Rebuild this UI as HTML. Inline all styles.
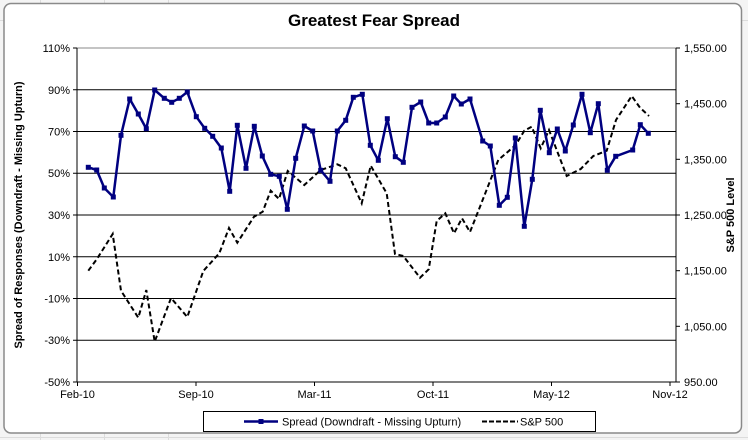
<!DOCTYPE html>
<html><head><style>
body{margin:0;background:#fff;}
svg{display:block;font-family:"Liberation Sans",sans-serif;}
</style></head><body>
<svg width="748" height="440" viewBox="0 0 748 440">
<rect x="0" y="0" width="748" height="440" fill="#f4f4f4"/>
<g stroke="#dcdcdc" stroke-width="1">
<line x1="0" y1="20.5" x2="748" y2="20.5"/><line x1="0" y1="437.5" x2="748" y2="437.5"/>
<line x1="40.5" y1="0" x2="40.5" y2="440"/><line x1="104.5" y1="0" x2="104.5" y2="440"/><line x1="168.5" y1="0" x2="168.5" y2="440"/>
</g>
<rect x="4" y="3.5" width="737.5" height="429.5" rx="7" fill="#fff" stroke="#8a8a8a" stroke-width="1.5"/>
<text x="374" y="26" text-anchor="middle" font-size="17" font-weight="bold">Greatest Fear Spread</text>
<g stroke="#000" stroke-width="1">
<line x1="77" y1="48" x2="676" y2="48" stroke="#888"/>
<line x1="77" y1="89.75" x2="676" y2="89.75"/>
<line x1="77" y1="131.5" x2="676" y2="131.5"/>
<line x1="77" y1="173.25" x2="676" y2="173.25"/>
<line x1="77" y1="215" x2="676" y2="215"/>
<line x1="77" y1="256.75" x2="676" y2="256.75"/>
<line x1="77" y1="298.5" x2="676" y2="298.5"/>
<line x1="77" y1="340.25" x2="676" y2="340.25"/>
<line x1="77" y1="382" x2="676" y2="382"/>
<line x1="77" y1="48" x2="77" y2="382"/>
<line x1="676" y1="48" x2="676" y2="382"/>
<line x1="73" y1="48" x2="77" y2="48"/><line x1="73" y1="89.75" x2="77" y2="89.75"/><line x1="73" y1="131.5" x2="77" y2="131.5"/><line x1="73" y1="173.25" x2="77" y2="173.25"/><line x1="73" y1="215" x2="77" y2="215"/><line x1="73" y1="256.75" x2="77" y2="256.75"/><line x1="73" y1="298.5" x2="77" y2="298.5"/><line x1="73" y1="340.25" x2="77" y2="340.25"/><line x1="73" y1="382" x2="77" y2="382"/>
<line x1="676" y1="48" x2="680" y2="48"/><line x1="676" y1="103.7" x2="680" y2="103.7"/><line x1="676" y1="159.3" x2="680" y2="159.3"/><line x1="676" y1="215" x2="680" y2="215"/><line x1="676" y1="270.7" x2="680" y2="270.7"/><line x1="676" y1="326.3" x2="680" y2="326.3"/><line x1="676" y1="382" x2="680" y2="382"/>
<line x1="77.5" y1="382" x2="77.5" y2="386"/><line x1="196" y1="382" x2="196" y2="386"/><line x1="314.5" y1="382" x2="314.5" y2="386"/><line x1="433" y1="382" x2="433" y2="386"/><line x1="551.5" y1="382" x2="551.5" y2="386"/><line x1="670" y1="382" x2="670" y2="386"/>
</g>
<g font-size="11" text-anchor="end">
<text x="70" y="52">110%</text><text x="70" y="94">90%</text><text x="70" y="135.5">70%</text><text x="70" y="177">50%</text><text x="70" y="219">30%</text><text x="70" y="261">10%</text><text x="70" y="302.5">-10%</text><text x="70" y="344">-30%</text><text x="70" y="386">-50%</text>
</g>
<g font-size="11">
<text x="684" y="52">1,550.00</text><text x="684" y="107.7">1,450.00</text><text x="684" y="163.3">1,350.00</text><text x="684" y="219">1,250.00</text><text x="684" y="274.7">1,150.00</text><text x="684" y="330.3">1,050.00</text><text x="684" y="386">950.00</text>
</g>
<g font-size="11" text-anchor="middle">
<text x="77.5" y="398">Feb-10</text><text x="196" y="398">Sep-10</text><text x="314.5" y="398">Mar-11</text><text x="433" y="398">Oct-11</text><text x="551.5" y="398">May-12</text><text x="670" y="398">Nov-12</text>
</g>
<text transform="translate(22,215) rotate(-90)" text-anchor="middle" font-size="11" font-weight="bold">Spread of Responses (Downdraft - Missing Upturn)</text>
<text transform="translate(734,215) rotate(-90)" text-anchor="middle" font-size="11" font-weight="bold">S&amp;P 500 Level</text>
<polyline fill="none" stroke="#000" stroke-width="2" stroke-dasharray="5,3" points="88.3,270.7 96.7,259.3 112.7,234 121,290.7 138.3,317.7 146.3,290 154.7,341.7 171,298 187.3,317 203.3,271 219.3,253.3 229,228 237.3,242.7 254,216.7 262.7,211.7 270.7,190.7 279,199 287.7,171 304.3,185 320.7,170 337.3,164.3 345.7,168.3 361.7,203.3 370.7,165.7 386.7,193.3 395,254 403.3,256 420,277.7 428.7,269.3 436.7,221 445.3,213.3 454,233.3 462,218.3 470,232 480,206.7 498.3,160 515.7,145 524.3,130.7 531.7,126.7 540.7,148.3 549,130 566.7,176 580.7,169 593.3,156 606.7,150.7 616,120 631.7,96 640,107.7 649,116"/>
<g>
<polyline fill="none" stroke="#000080" stroke-width="2.5" stroke-linejoin="round" points="88.3,167.3 96.7,170 104.3,188 113.3,197 121,135.3 129.7,99 138.3,114 146.3,128.7 154.7,90 164.3,98.3 171.7,102.3 179.3,98.3 187.3,92 196.3,116.7 204.7,128.3 212.7,136.3 221.3,148 229.7,191.3 237.3,125.3 246,168.3 254.3,126.3 262.3,156 270.7,174.3 279.3,176.3 287.3,209.3 295.7,158.3 304.3,126 312.7,131 320.7,170.3 330,181.3 337.3,131 345.7,120.3 353.3,97.3 362.3,94.3 370.3,145.3 378.3,160.3 387.3,118.7 395.3,156.7 403.3,162.3 412,107.3 420.7,102 428.7,123 436.7,123 445.3,117 453.7,96 461.3,104 470,99 482.7,141 490.3,146 499.3,205.3 507.3,197.3 515.3,138 524.3,226.3 532.3,179.3 540.3,110.3 549.3,152.7 557.3,129 565.3,151 573.3,125 582,94.3 590.3,132.7 598.3,103.7 607.3,170.3 615.7,156.3 632.7,150 640.3,124.7 648.3,133.3"/>
<g fill="#000080">
<rect x="85.8" y="164.8" width="5" height="5"/><rect x="94.2" y="167.5" width="5" height="5"/><rect x="101.8" y="185.5" width="5" height="5"/><rect x="110.8" y="194.5" width="5" height="5"/><rect x="118.5" y="132.8" width="5" height="5"/><rect x="127.2" y="96.5" width="5" height="5"/><rect x="135.8" y="111.5" width="5" height="5"/><rect x="143.8" y="126.2" width="5" height="5"/><rect x="152.2" y="87.5" width="5" height="5"/><rect x="161.8" y="95.8" width="5" height="5"/><rect x="169.2" y="99.8" width="5" height="5"/><rect x="176.8" y="95.8" width="5" height="5"/><rect x="184.8" y="89.5" width="5" height="5"/><rect x="193.8" y="114.2" width="5" height="5"/><rect x="202.2" y="125.8" width="5" height="5"/><rect x="210.2" y="133.8" width="5" height="5"/><rect x="218.8" y="145.5" width="5" height="5"/><rect x="227.2" y="188.8" width="5" height="5"/><rect x="234.8" y="122.8" width="5" height="5"/><rect x="243.5" y="165.8" width="5" height="5"/><rect x="251.8" y="123.8" width="5" height="5"/><rect x="259.8" y="153.5" width="5" height="5"/><rect x="268.2" y="171.8" width="5" height="5"/><rect x="276.8" y="173.8" width="5" height="5"/><rect x="284.8" y="206.8" width="5" height="5"/><rect x="293.2" y="155.8" width="5" height="5"/><rect x="301.8" y="123.5" width="5" height="5"/><rect x="310.2" y="128.5" width="5" height="5"/><rect x="318.2" y="167.8" width="5" height="5"/><rect x="327.5" y="178.8" width="5" height="5"/><rect x="334.8" y="128.5" width="5" height="5"/><rect x="343.2" y="117.8" width="5" height="5"/><rect x="350.8" y="94.8" width="5" height="5"/><rect x="359.8" y="91.8" width="5" height="5"/><rect x="367.8" y="142.8" width="5" height="5"/><rect x="375.8" y="157.8" width="5" height="5"/><rect x="384.8" y="116.2" width="5" height="5"/><rect x="392.8" y="154.2" width="5" height="5"/><rect x="400.8" y="159.8" width="5" height="5"/><rect x="409.5" y="104.8" width="5" height="5"/><rect x="418.2" y="99.5" width="5" height="5"/><rect x="426.2" y="120.5" width="5" height="5"/><rect x="434.2" y="120.5" width="5" height="5"/><rect x="442.8" y="114.5" width="5" height="5"/><rect x="451.2" y="93.5" width="5" height="5"/><rect x="458.8" y="101.5" width="5" height="5"/><rect x="467.5" y="96.5" width="5" height="5"/><rect x="480.2" y="138.5" width="5" height="5"/><rect x="487.8" y="143.5" width="5" height="5"/><rect x="496.8" y="202.8" width="5" height="5"/><rect x="504.8" y="194.8" width="5" height="5"/><rect x="512.8" y="135.5" width="5" height="5"/><rect x="521.8" y="223.8" width="5" height="5"/><rect x="529.8" y="176.8" width="5" height="5"/><rect x="537.8" y="107.8" width="5" height="5"/><rect x="546.8" y="150.2" width="5" height="5"/><rect x="554.8" y="126.5" width="5" height="5"/><rect x="562.8" y="148.5" width="5" height="5"/><rect x="570.8" y="122.5" width="5" height="5"/><rect x="579.5" y="91.8" width="5" height="5"/><rect x="587.8" y="130.2" width="5" height="5"/><rect x="595.8" y="101.2" width="5" height="5"/><rect x="604.8" y="167.8" width="5" height="5"/><rect x="613.2" y="153.8" width="5" height="5"/><rect x="630.2" y="147.5" width="5" height="5"/><rect x="637.8" y="122.2" width="5" height="5"/><rect x="645.8" y="130.8" width="5" height="5"/>
</g></g>
<rect x="203.5" y="411.5" width="392" height="20" fill="#fff" stroke="#000"/>
<line x1="244" y1="421.5" x2="278" y2="421.5" stroke="#000080" stroke-width="2.5"/>
<rect x="258.5" y="419" width="5" height="5" fill="#000080"/>
<text x="282" y="425.5" font-size="11">Spread (Downdraft - Missing Upturn)</text>
<line x1="482" y1="421.5" x2="518" y2="421.5" stroke="#000" stroke-width="2" stroke-dasharray="5,2"/>
<text x="520" y="425.5" font-size="11">S&amp;P 500</text>
</svg>
</body></html>
